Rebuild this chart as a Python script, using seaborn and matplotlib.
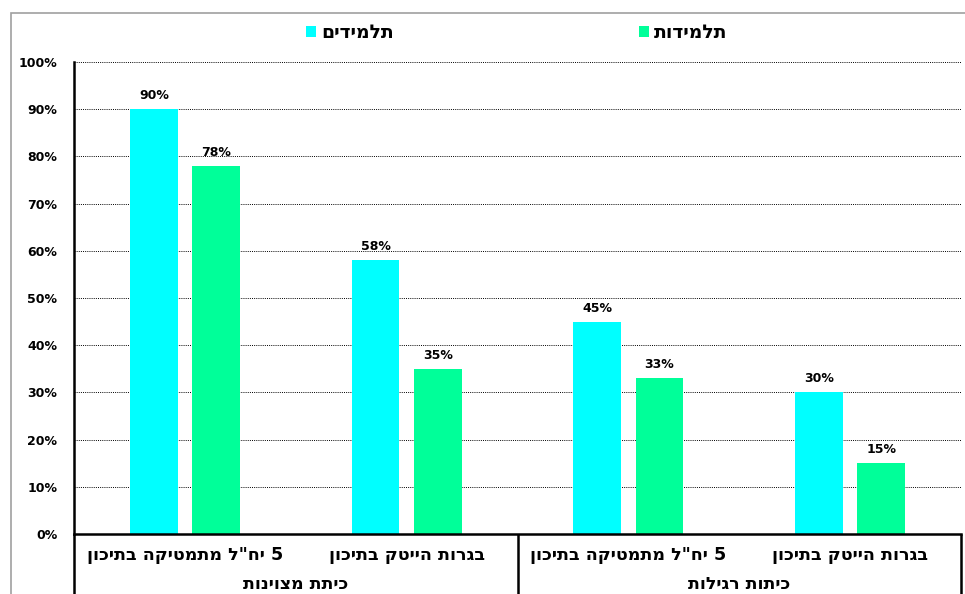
import matplotlib
matplotlib.use("Agg")
import matplotlib.pyplot as plt
from matplotlib.patches import Patch, Rectangle
from matplotlib.ticker import MultipleLocator, FuncFormatter
import seaborn as sns
import pandas as pd

# ---- data ----
groups = ["כיתת מצוינות", "כיתות רגילות"]
subcategories = ["5 יח\"ל מתמטיקה בתיכון", "בגרות הייטק בתיכון"]
series_names = ["תלמידים", "תלמידות"]
boys = [90, 58, 45, 30]
girls = [78, 35, 33, 15]
colors = ["#00FFFF", "#00FF99"]


def visual(s):
    """Hebrew is right-to-left; matplotlib lays glyphs out left-to-right."""
    return s[::-1]


categories = [f"{g}|{s}" for g in groups for s in subcategories]
df = pd.DataFrame({
    "category": categories * 2,
    "series": [series_names[0]] * 4 + [series_names[1]] * 4,
    "value": boys + girls,
})

sns.set_style("white")
plt.rcParams["font.family"] = ["DejaVu Sans"]
plt.rcParams["font.weight"] = "bold"
for key in ["text.color", "xtick.color", "ytick.color", "axes.labelcolor"]:
    plt.rcParams[key] = "black"

W, H = 965, 594
fig = plt.figure(figsize=(W / 100, H / 100), dpi=100)
ax = fig.add_axes([74 / W, (H - 534) / H, (961 - 74) / W, (534 - 62) / H])

sns.barplot(data=df, x="category", y="value", hue="series",
            order=categories, hue_order=series_names,
            palette=colors, saturation=1, width=0.56, gap=0.23,
            legend=False, ax=ax, edgecolor="none", linewidth=0)

for cont in ax.containers:
    vals = [b.get_height() for b in cont]
    ax.bar_label(cont, labels=[f"{v:.0f}%" for v in vals], padding=5,
                 fontsize=9, fontweight="bold", color="black")

ax.set_ylim(0, 100)
ax.set_xlim(-0.5, 3.5)
ax.yaxis.set_major_locator(MultipleLocator(10))
ax.yaxis.set_major_formatter(FuncFormatter(lambda v, p: f"{v:.0f}%"))
ax.grid(axis="y", color="black", linestyle=(0, (1, 1.2)), linewidth=0.7)
ax.set_axisbelow(True)
ax.tick_params(axis="y", length=0, pad=12, labelsize=9)
for lab in ax.get_yticklabels():
    lab.set_fontweight("bold")

ax.set_xlabel("")
ax.set_ylabel("")
ax.set_xticks(range(4))
ax.set_xticklabels([visual(s) for g in groups for s in subcategories],
                   fontsize=12.6, fontweight="bold")
ax.tick_params(axis="x", length=0, pad=9)

for side in ["top", "right"]:
    ax.spines[side].set_visible(False)
for side in ["left", "bottom"]:
    ax.spines[side].set_color("black")
    ax.spines[side].set_linewidth(1.8)

# category table below the axis
tr = ax.get_xaxis_transform()
for x in [-0.5, 1.5, 3.5]:
    ax.plot([x, x], [0, -0.2], transform=tr, color="black",
            linewidth=1.8, clip_on=False, solid_capstyle="butt")
for i, g in enumerate(groups):
    ax.text(2 * i + 0.5, -0.106, visual(g), transform=tr, ha="center",
            va="center", fontsize=12.5, fontweight="bold")

# legend across the top
fs_leg = 13.5
em = fs_leg * 100 / 72
handles = [Patch(facecolor=c, edgecolor="none") for c in colors]
fig.legend(handles, [visual(n) for n in series_names], ncol=2,
           loc="center left", bbox_to_anchor=(306 / W, 1 - 33 / H),
           frameon=False, borderpad=0, borderaxespad=0,
           handlelength=10 / em, handleheight=10 / em,
           handletextpad=5 / em, columnspacing=245 / em,
           prop={"size": fs_leg, "weight": "bold"})

# chart area border
fig.add_artist(Rectangle((11 / W, -0.1), 1.2, 1 - 13 / H + 0.1,
                         transform=fig.transFigure, fill=False,
                         edgecolor="#A0A0A0", linewidth=1.2))

fig.savefig("out.png", dpi=100, facecolor="white")
